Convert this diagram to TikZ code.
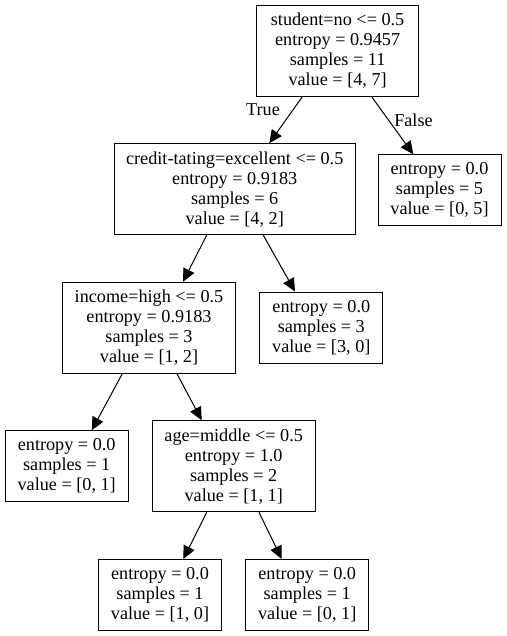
\documentclass[tikz,border=0pt]{standalone}
\usepackage{fontspec}
\setmainfont{Liberation Serif}
\usetikzlibrary{arrows.meta}
\begin{document}
\begin{tikzpicture}[x=1bp, y=-1bp,
        box/.style={draw, line width=1bp, align=center, inner sep=0pt, minimum height=91bp, font=\fontsize{18.2bp}{20bp}\selectfont},
        leaf/.style={box, minimum width=123bp, minimum height=71bp},
        edge/.style={line width=1bp, -{Triangle[length=13bp,width=12bp]}},
        lbl/.style={font=\fontsize{18.2bp}{20bp}\selectfont}]
        \useasboundingbox (0,0) rectangle (507,636);
        \node[box, minimum width=162bp] (root) at (337.6,50.8) {student=no <= 0.5\\entropy = 0.9457\\samples = 11\\value = [4, 7]};
        \node[box, minimum width=241bp] (credit) at (234.7,189.2) {credit-tating=excellent <= 0.5\\entropy = 0.9183\\samples = 6\\value = [4, 2]};
        \node[leaf] (leafA) at (439.5,190.3) {entropy = 0.0\\samples = 5\\value = [0, 5]};
        \node[box, minimum width=173.5bp] (income) at (149,327.8) {income=high <= 0.5\\entropy = 0.9183\\samples = 3\\value = [1, 2]};
        \node[leaf] (leafB) at (321.3,327.5) {entropy = 0.0\\samples = 3\\value = [3, 0]};
        \node[leaf] (leafC) at (66.7,466.3) {entropy = 0.0\\samples = 1\\value = [0, 1]};
        \node[box, minimum width=162.7bp] (age) at (233.7,466.3) {age=middle <= 0.5\\entropy = 1.0\\samples = 2\\value = [1, 1]};
        \node[leaf] (leafD) at (160,595) {entropy = 0.0\\samples = 1\\value = [1, 0]};
        \node[leaf] (leafE) at (307.2,595) {entropy = 0.0\\samples = 1\\value = [0, 1]};
        \draw[edge] ([xshift=-35.3bp]root.south) -- ([xshift=34.6bp]credit.north);
        \draw[edge] ([xshift=34.1bp]root.south) -- ([xshift=-26.2bp]leafA.north);
        \draw[edge] ([xshift=-28bp]credit.south) -- ([xshift=34bp]income.north);
        \draw[edge] ([xshift=28.6bp]credit.south) -- ([xshift=-26.3bp]leafB.north);
        \draw[edge] ([xshift=-26.7bp]income.south) -- ([xshift=25bp]leafC.north);
        \draw[edge] ([xshift=28bp]income.south) -- ([xshift=-32bp]age.north);
        \draw[edge] ([xshift=-27bp]age.south) -- ([xshift=23.3bp]leafD.north);
        \draw[edge] ([xshift=25.3bp]age.south) -- ([xshift=-25.5bp]leafE.north);
        \node[lbl] (ltrue) at (263,110) {True};
        \node[lbl] (lfalse) at (413.5,120) {False};
    \end{tikzpicture}
\end{document}
